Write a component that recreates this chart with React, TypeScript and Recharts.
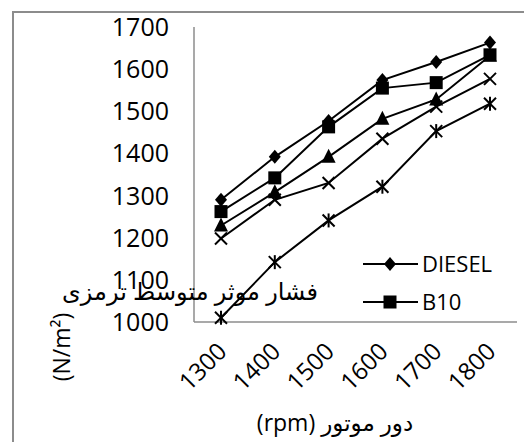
import React from "react";
import { LineChart, Line, XAxis, YAxis, Label, Legend } from "recharts";

const rpm = ["1300", "1400", "1500", "1600", "1700", "1800"];
const diesel = [1290, 1392, 1477, 1574, 1617, 1663];
const b10 = [1262, 1342, 1463, 1555, 1568, 1634];
const b20 = [1229, 1308, 1392, 1482, 1528, 1632];
const b30 = [1198, 1290, 1330, 1435, 1511, 1577];
const b40 = [1010, 1142, 1241, 1321, 1453, 1518];
const yTicks = [1000, 1100, 1200, 1300, 1400, 1500, 1600, 1700];

const data = rpm.map((r, i) => ({
  rpm: r,
  DIESEL: diesel[i],
  B10: b10[i],
  B20: b20[i],
  B30: b30[i],
  B40: b40[i],
}));

const FONT = "'Open Sans', 'DejaVu Sans', sans-serif";
const GREY = "#8c8c8c";

const Diamond = ({ cx, cy }: any) => (
  <polygon points={`${cx},${cy - 7} ${cx + 6},${cy} ${cx},${cy + 7} ${cx - 6},${cy}`} fill="#000" />
);
const Square = ({ cx, cy }: any) => <rect x={cx - 6.5} y={cy - 6.5} width={13} height={13} fill="#000" />;
const Triangle = ({ cx, cy }: any) => (
  <polygon points={`${cx},${cy - 8} ${cx + 7},${cy + 6} ${cx - 7},${cy + 6}`} fill="#000" />
);
const Cross = ({ cx, cy }: any) => (
  <g stroke="#000" strokeWidth={2}>
    <line x1={cx - 6} y1={cy - 6} x2={cx + 6} y2={cy + 6} />
    <line x1={cx - 6} y1={cy + 6} x2={cx + 6} y2={cy - 6} />
  </g>
);
const Star = ({ cx, cy }: any) => (
  <g stroke="#000" strokeWidth={2}>
    <line x1={cx - 6} y1={cy - 6} x2={cx + 6} y2={cy + 6} />
    <line x1={cx - 6} y1={cy + 6} x2={cx + 6} y2={cy - 6} />
    <line x1={cx} y1={cy - 7} x2={cx} y2={cy + 7} />
  </g>
);

const YTick = ({ y, payload }: any) => (
  <text x={169} y={y} dy="0.36em" textAnchor="end" fontSize={25} fontFamily={FONT} fill="#000">
    {payload.value}
  </text>
);

const XTick = ({ x, payload }: any) => (
  <g transform={`translate(${x + 1},${347})`}>
    <text x={0} y={0} dy="0.36em" textAnchor="end" transform="rotate(-45)" fontSize={24} fontFamily={FONT} fill="#000">
      {payload.value}
    </text>
  </g>
);

const renderYTitle = () => (
  <g fontFamily={FONT} fill="#000">
    <text x={190} y={300} textAnchor="middle" fontSize={24}>
      فشار موثر متوسط ترمزی
    </text>
    <text x={0} y={0} transform="translate(70,347) rotate(-90)" textAnchor="middle" fontSize={23}>
      (N/m²)
    </text>
  </g>
);

const renderXTitle = () => (
  <text x={335} y={431} textAnchor="middle" direction="rtl" fontSize={23} fontFamily={FONT} fill="#000">
    دور موتور (rpm)
  </text>
);

const legendItems = [
  { name: "DIESEL", Mark: Diamond, y: 264 },
  { name: "B10", Mark: Square, y: 302 },
];

const renderLegend = () => (
  <svg width={524} height={442} style={{ position: "absolute", left: 0, top: 0, overflow: "visible" }}>
    {legendItems.map(({ name, Mark, y }) => (
      <g key={name}>
        <line x1={363} y1={y} x2={418} y2={y} stroke="#000" strokeWidth={2} />
        <Mark cx={390} cy={y} />
        <text x={422} y={y} dy="0.36em" fontSize={22} fontFamily={FONT} fill="#000">
          {name}
        </text>
      </g>
    ))}
  </svg>
);

export default function App() {
  return (
    <div style={{ position: "absolute", left: 0, top: 0, width: 524, height: 442, background: "#fff" }}>
      <div
        style={{
          position: "absolute",
          left: 12,
          top: 11,
          width: 524,
          height: 442,
          borderLeft: `2px solid ${GREY}`,
          borderTop: `2px solid ${GREY}`,
        }}
      />
      <LineChart width={524} height={442} data={data} margin={{ top: 27, right: 7, left: 0, bottom: 0 }}>
        <XAxis
          dataKey="rpm"
          height={120}
          padding={{ left: 27, right: 27 }}
          axisLine={{ stroke: GREY, strokeWidth: 1.5 }}
          tickLine={false}
          tick={<XTick />}
          interval={0}
        >
          <Label content={renderXTitle} />
        </XAxis>
        <YAxis
          width={194}
          domain={[1000, 1700]}
          ticks={yTicks}
          axisLine={{ stroke: GREY, strokeWidth: 1.5 }}
          tickLine={false}
          tick={<YTick />}
          interval={0}
        >
          <Label content={renderYTitle} />
        </YAxis>
        <Legend content={renderLegend} wrapperStyle={{ position: "absolute", left: 0, top: 0 }} />
        <Line dataKey="B40" stroke="#000" strokeWidth={2} dot={<Star />} isAnimationActive={false} />
        <Line dataKey="B30" stroke="#000" strokeWidth={2} dot={<Cross />} isAnimationActive={false} />
        <Line dataKey="B20" stroke="#000" strokeWidth={2} dot={<Triangle />} isAnimationActive={false} />
        <Line dataKey="B10" stroke="#000" strokeWidth={2} dot={<Square />} isAnimationActive={false} />
        <Line dataKey="DIESEL" stroke="#000" strokeWidth={2} dot={<Diamond />} isAnimationActive={false} />
      </LineChart>
    </div>
  );
}
